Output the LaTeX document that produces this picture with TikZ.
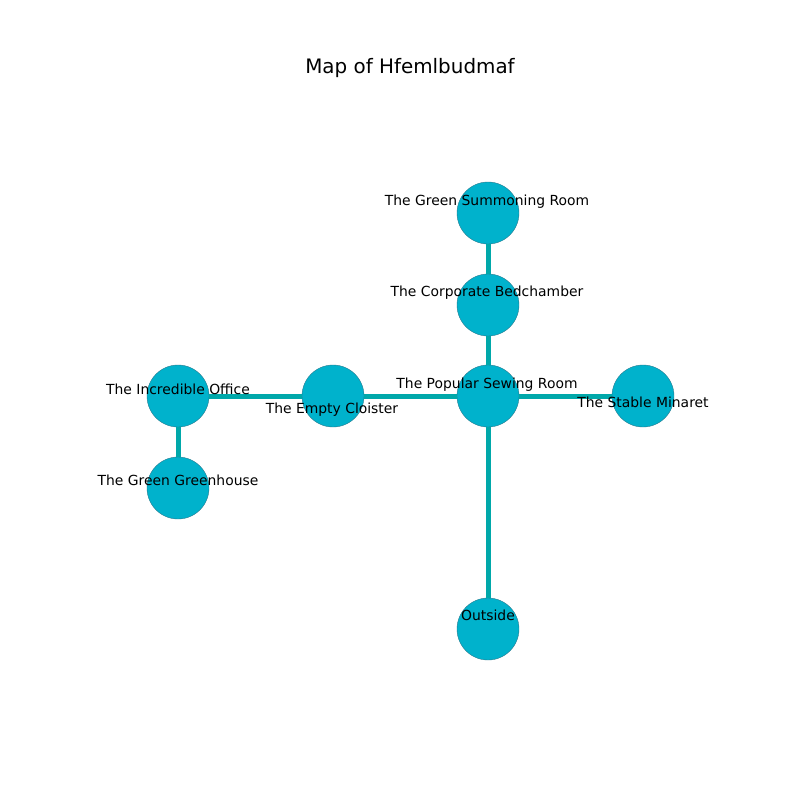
\documentclass[tikz,border=0pt]{standalone}
\usepackage{fontspec}
\setmainfont{DejaVu Sans}
\definecolor{nodefill}{RGB}{0,178,204}
\definecolor{nodeline}{RGB}{40,120,140}
\definecolor{edgecol}{RGB}{0,168,170}
\begin{document}
\begin{tikzpicture}[x=1pt,y=-1pt,
  room/.style={circle,fill=nodefill,draw=nodeline,line width=0.4pt,minimum size=62pt,inner sep=0pt},
  lbl/.style={font=\fontsize{13.9}{16}\selectfont,inner sep=0pt,text=black},
  link/.style={draw=edgecol,line width=5pt}]
\useasboundingbox (0,0) rectangle (800,800);
\node[font=\fontsize{19.9}{24}\selectfont,inner sep=0pt] (title) at (410,68) {Map of Hfemlbudmaf};
\node[room] (gsr) at (488,213) {};
\node[room] (cb) at (488,305) {};
\node[room] (psr) at (488,396) {};
\node[room] (sm) at (643,396) {};
\node[room] (ec) at (333,396) {};
\node[room] (io) at (178,396) {};
\node[room] (gg) at (178,488) {};
\node[room] (out) at (488,629) {};
\draw[link] (gsr) -- (cb);
\draw[link] (cb) -- (psr);
\draw[link] (psr) -- (sm);
\draw[link] (psr) -- (ec);
\draw[link] (ec) -- (io);
\draw[link] (io) -- (gg);
\draw[link] (psr) -- (out);
\node[lbl] (lgsr) at (487,202) {The Green Summoning Room};
\node[lbl] (lcb) at (487,293) {The Corporate Bedchamber};
\node[lbl] (lpsr) at (487,385) {The Popular Sewing Room};
\node[lbl] (lsm) at (643,402) {The Stable Minaret};
\node[lbl] (lec) at (332,410) {The Empty Cloister};
\node[lbl] (lio) at (178,389) {The Incredible Office};
\node[lbl] (lgg) at (178,480) {The Green Greenhouse};
\node[lbl] (lout) at (488,615) {Outside};
\end{tikzpicture}
\end{document}
